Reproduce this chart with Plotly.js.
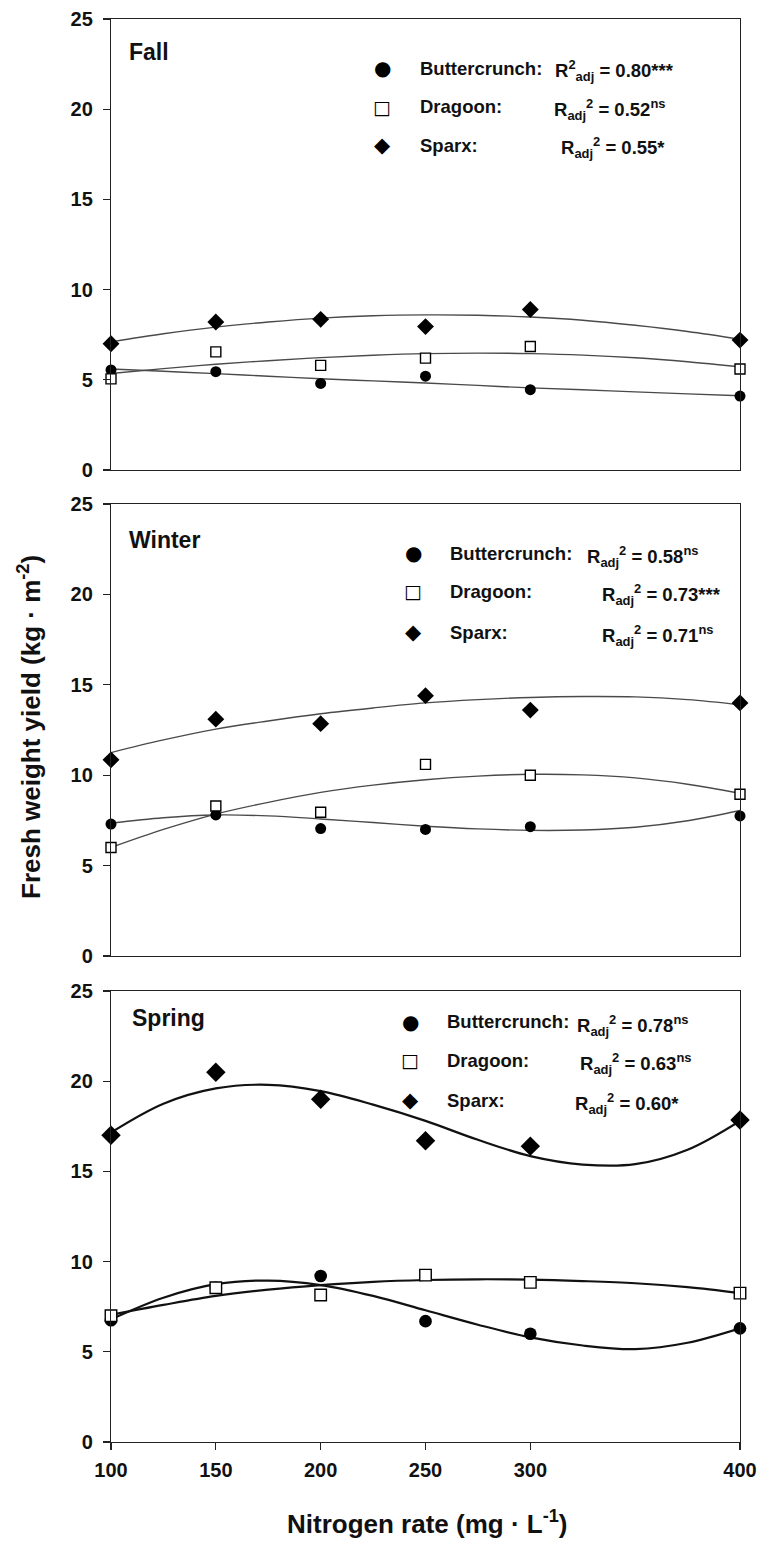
<!DOCTYPE html>
<html>
<head>
<meta charset="utf-8">
<script src="https://cdn.plot.ly/plotly-3.0.1.min.js"></script>
<style>html,body{margin:0;padding:0;background:#fff;}#chart{width:761px;height:1541px;}</style>
</head>
<body>
<div id="chart"></div>
<script>
// ---- data ----
const nRates = [100, 150, 200, 250, 300, 400];
const xTicks = [100, 150, 200, 250, 300, 400];
const yTicks = [0, 5, 10, 15, 20, 25];

const fallButtercrunch = [5.55, 5.45, 4.8, 5.2, 4.45, 4.1];
const fallDragoon      = [5.05, 6.55, 5.8, 6.2, 6.85, 5.6];
const fallSparx        = [7.0, 8.2, 8.35, 7.95, 8.9, 7.2];

const winterButtercrunch = [7.3, 7.8, 7.05, 7.0, 7.15, 7.75];
const winterDragoon      = [6.0, 8.3, 7.95, 10.6, 10.0, 8.95];
const winterSparx        = [10.85, 13.1, 12.85, 14.4, 13.6, 14.0];

const springButtercrunch = [6.75, 8.55, 9.2, 6.7, 6.0, 6.3];
const springDragoon      = [7.0, 8.55, 8.15, 9.25, 8.85, 8.25];
const springSparx        = [17.0, 20.5, 19.0, 16.7, 16.4, 17.85];

// fitted regression curves
const curveX = [100, 125, 150, 175, 200, 225, 250, 275, 300, 325, 350, 375, 400];
const fallButtercrunchFit = [5.6, 5.47, 5.34, 5.2, 5.06, 4.94, 4.82, 4.69, 4.55, 4.45, 4.33, 4.22, 4.12];
const fallDragoonFit      = [5.35, 5.62, 5.86, 6.06, 6.23, 6.36, 6.45, 6.48, 6.45, 6.37, 6.22, 6.0, 5.72];
const fallSparxFit        = [7.1, 7.55, 7.92, 8.2, 8.42, 8.55, 8.6, 8.58, 8.48, 8.3, 8.02, 7.68, 7.25];
const winterButtercrunchFit = [7.35, 7.65, 7.8, 7.75, 7.58, 7.38, 7.18, 7.03, 6.95, 6.97, 7.12, 7.48, 8.05];
const winterDragoonFit      = [6.0, 7.0, 7.85, 8.5, 9.05, 9.45, 9.75, 9.95, 10.05, 10.02, 9.85, 9.5, 9.0];
const winterSparxFit        = [11.25, 11.95, 12.55, 13.0, 13.4, 13.72, 14.0, 14.18, 14.3, 14.35, 14.33, 14.18, 13.9];
const springButtercrunchFit = [6.8, 8.0, 8.75, 8.95, 8.7, 8.1, 7.3, 6.5, 5.8, 5.35, 5.15, 5.5, 6.3];
const springDragoonFit      = [7.05, 7.6, 8.1, 8.45, 8.7, 8.88, 8.98, 9.02, 9.0, 8.92, 8.8, 8.58, 8.25];
const springSparxFit        = [17.15, 18.75, 19.6, 19.8, 19.45, 18.7, 17.8, 16.75, 15.85, 15.38, 15.4, 16.2, 17.8];

const seasons = ['Fall', 'Winter', 'Spring'];
const cultivars = ['Buttercrunch', 'Dragoon', 'Sparx'];
const r2Text = {
  Fall:   ['R<sup>2</sup><sub>adj</sub> = 0.80***', 'R<sub>adj</sub><sup>2</sup> = 0.52<sup>ns</sup>', 'R<sub>adj</sub><sup>2</sup> = 0.55*'],
  Winter: ['R<sub>adj</sub><sup>2</sup> = 0.58<sup>ns</sup>', 'R<sub>adj</sub><sup>2</sup> = 0.73***', 'R<sub>adj</sub><sup>2</sup> = 0.71<sup>ns</sup>'],
  Spring: ['R<sub>adj</sub><sup>2</sup> = 0.78<sup>ns</sup>', 'R<sub>adj</sub><sup>2</sup> = 0.63<sup>ns</sup>', 'R<sub>adj</sub><sup>2</sup> = 0.60*']
};
const legendGlyphs = ['●', '□', '◆'];

// ---- layout helpers ----
const W = 761, H = 1541;
const ML = 111, MR = 21, MT = 19, MB = 99;
const plotW = W - ML - MR, plotH = H - MT - MB;
const px2x = p => (p - ML) / plotW;
const px2y = p => (H - MB - p) / plotH;

const FONT = 'Liberation Sans, Arial, Helvetica, sans-serif';

const seasonData = {
  Fall:   {pts: [fallButtercrunch, fallDragoon, fallSparx], fit: [fallButtercrunchFit, fallDragoonFit, fallSparxFit], xa: 'x3', ya: 'y3'},
  Winter: {pts: [winterButtercrunch, winterDragoon, winterSparx], fit: [winterButtercrunchFit, winterDragoonFit, winterSparxFit], xa: 'x2', ya: 'y2'},
  Spring: {pts: [springButtercrunch, springDragoon, springSparx], fit: [springButtercrunchFit, springDragoonFit, springSparxFit], xa: 'x', ya: 'y'}
};

const lineStyle = {
  Fall:   {color: '#4a4a4a', width: 1.4},
  Winter: {color: '#4a4a4a', width: 1.4},
  Spring: {color: '#111111', width: 2.2}
};
const markerScale = {Fall: 1.0, Winter: 1.0, Spring: 1.15};

function markerFor(i, s) {
  const k = markerScale[s];
  if (i === 0) return {symbol: 'circle', size: 11 * k, color: '#000', line: {width: 0}};
  if (i === 1) return {symbol: 'square-open', size: 10 * k, color: '#000', line: {width: 1.4}};
  return {symbol: 'diamond', size: 13 * k, color: '#000', line: {width: 0}};
}

const traces = [];
seasons.forEach(s => {
  const d = seasonData[s];
  d.fit.forEach((vals, i) => {
    traces.push({
      x: curveX, y: vals, xaxis: d.xa, yaxis: d.ya, type: 'scatter', mode: 'lines',
      line: {color: lineStyle[s].color, width: lineStyle[s].width, shape: 'spline', smoothing: 1},
      hoverinfo: 'skip', showlegend: false, cliponaxis: false
    });
  });
  d.pts.forEach((vals, i) => {
    const m = markerFor(i, s);
    if (i === 1) {
      traces.push({
        x: nRates, y: vals, xaxis: d.xa, yaxis: d.ya, type: 'scatter', mode: 'markers',
        marker: {symbol: 'square', size: m.size, color: '#fff', line: {width: 0}},
        hoverinfo: 'skip', showlegend: false, cliponaxis: false
      });
    }
    traces.push({
      x: nRates, y: vals, xaxis: d.xa, yaxis: d.ya, type: 'scatter', mode: 'markers',
      name: cultivars[i], marker: m, showlegend: false, cliponaxis: false
    });
  });
});

const domains = {
  Fall:   [px2y(470), 1],
  Winter: [px2y(956), px2y(504)],
  Spring: [0, px2y(991)]
};

function yAxis(dom, xa) {
  return {
    domain: dom, anchor: xa, range: [0, 25], tickvals: yTicks, ticktext: yTicks.map(String),
    showline: true, mirror: true, linecolor: '#222', linewidth: 1.2,
    ticks: 'outside', ticklen: 7, tickwidth: 1.2, tickcolor: '#222',
    showgrid: false, zeroline: false, ticklabelstandoff: 6,
    tickfont: {family: FONT, size: 20, color: '#111', weight: 'bold'}
  };
}
function xAxis(ya, showLabels) {
  return {
    anchor: ya, range: [100, 400], tickvals: xTicks, ticktext: xTicks.map(String),
    showline: true, mirror: true, linecolor: '#222', linewidth: 1.2,
    ticks: showLabels ? 'outside' : '', ticklen: 7, tickwidth: 1.2, tickcolor: '#222',
    showticklabels: showLabels, showgrid: false, zeroline: false, ticklabelstandoff: 3,
    tickfont: {family: FONT, size: 20, color: '#111', weight: 'bold'}
  };
}

const annotations = [];
const panelLabelPos = {Fall: [127, 52], Winter: [127, 540], Spring: [130, 1018]};
seasons.forEach(s => {
  annotations.push({
    xref: 'paper', yref: 'paper', x: px2x(panelLabelPos[s][0]), y: px2y(panelLabelPos[s][1]),
    xanchor: 'left', yanchor: 'middle', showarrow: false, text: '<b>' + s + '</b>',
    font: {family: FONT, size: 23, color: '#111'}
  });
});

const legendPos = {
  Fall:   {mx: 382, tx: 418, rx: [553, 552, 559], ys: [68, 107, 145]},
  Winter: {mx: 413, tx: 448, rx: [585, 600, 600], ys: [553, 591, 632]},
  Spring: {mx: 410, tx: 445, rx: [575, 578, 573], ys: [1022, 1060, 1100]}
};
const glyphSize = [20, 19, 21];
seasons.forEach(s => {
  const L = legendPos[s];
  cultivars.forEach((c, i) => {
    annotations.push({
      xref: 'paper', yref: 'paper', x: px2x(L.mx), y: px2y(L.ys[i]), xanchor: 'center', yanchor: 'middle',
      showarrow: false, text: legendGlyphs[i],
      font: {family: 'DejaVu Sans, sans-serif', size: glyphSize[i], color: '#000'}
    });
    annotations.push({
      xref: 'paper', yref: 'paper', x: px2x(L.tx), y: px2y(L.ys[i]), xanchor: 'left', yanchor: 'middle',
      showarrow: false, text: '<b>' + c + ':</b>',
      font: {family: FONT, size: 18.5, color: '#111'}
    });
    annotations.push({
      xref: 'paper', yref: 'paper', x: px2x(L.rx[i]), y: px2y(L.ys[i] + 3), xanchor: 'left', yanchor: 'middle',
      showarrow: false, text: '<b>' + r2Text[s][i] + '</b>',
      font: {family: FONT, size: 18.5, color: '#111'}
    });
  });
});

annotations.push({
  xref: 'paper', yref: 'paper', x: px2x(30), y: px2y(727), xanchor: 'center', yanchor: 'middle',
  textangle: -90, showarrow: false, text: '<b>Fresh weight yield (kg · m<sup>-2</sup>)</b>',
  font: {family: FONT, size: 26, color: '#111'}
});
annotations.push({
  xref: 'paper', yref: 'paper', x: px2x(428), y: px2y(1522), xanchor: 'center', yanchor: 'middle',
  showarrow: false, text: '<b>Nitrogen rate (mg · L<sup>-1</sup>)</b>',
  font: {family: FONT, size: 26, color: '#111'}
});

const layout = {
  width: W, height: H,
  margin: {l: ML, r: MR, t: MT, b: MB},
  paper_bgcolor: '#fff', plot_bgcolor: '#fff',
  showlegend: false,
  font: {family: FONT, color: '#111'},
  xaxis: xAxis('y', true),
  xaxis2: xAxis('y2', false),
  xaxis3: xAxis('y3', false),
  yaxis: yAxis(domains.Spring, 'x'),
  yaxis2: yAxis(domains.Winter, 'x2'),
  yaxis3: yAxis(domains.Fall, 'x3'),
  annotations: annotations
};

Plotly.newPlot('chart', traces, layout, {staticPlot: true, displayModeBar: false});
</script>
</body>
</html>
